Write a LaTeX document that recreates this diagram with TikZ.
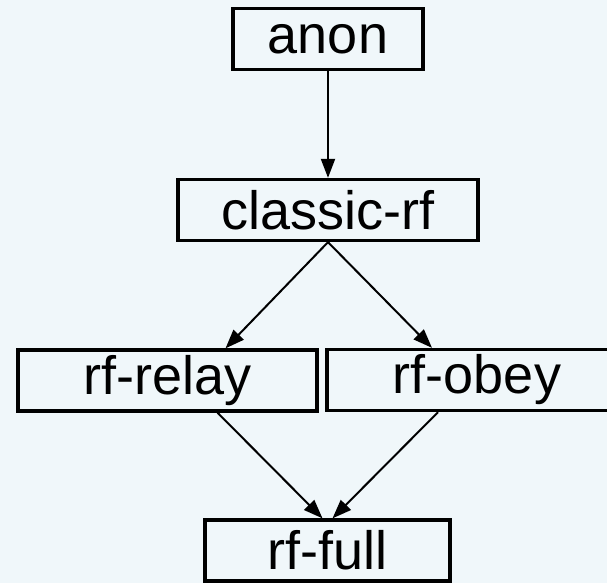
\documentclass[tikz,border=0pt]{standalone}
\usepackage{fontspec}
\setmainfont{Liberation Sans}
\usetikzlibrary{arrows.meta}
\definecolor{bgcol}{RGB}{240,247,250}
\tikzset{
  box/.style={draw=black, line width=3.3pt, rectangle, inner sep=0pt,
    minimum height=61pt, font=\fontsize{54pt}{60pt}\selectfont},
  link/.style={draw=black, line width=2pt, -{Triangle[length=19pt,width=14pt]}}
}
\begin{document}
\begin{tikzpicture}[x=1pt,y=-1pt]
\fill[bgcol] (0,0) rectangle (607,583);
\useasboundingbox (0,0) rectangle (607,583);
\node[box, minimum width=190pt] (anon) at (328,39) {anon};
\node[box, minimum width=300pt] (classic) at (328,210) {classic-rf};
\node[box, minimum width=299pt] (relay) at (167.5,380.5) {rf-relay};
\node[box, minimum width=300pt] (obey) at (477,380) {rf-obey};
\node[box, minimum width=245pt] (full) at (327.5,550.5) {rf-full};
\draw[link] (anon.south) -- (classic.north);
\draw[link] (classic.south) -- ([xshift=58pt]relay.north);
\draw[link] (classic.south) -- ([xshift=-45pt]obey.north);
\draw[link] ([xshift=50pt]relay.south) -- ([xshift=-5pt]full.north);
\draw[link] ([xshift=-39pt]obey.south) -- ([xshift=5pt]full.north);
\end{tikzpicture}
\end{document}
